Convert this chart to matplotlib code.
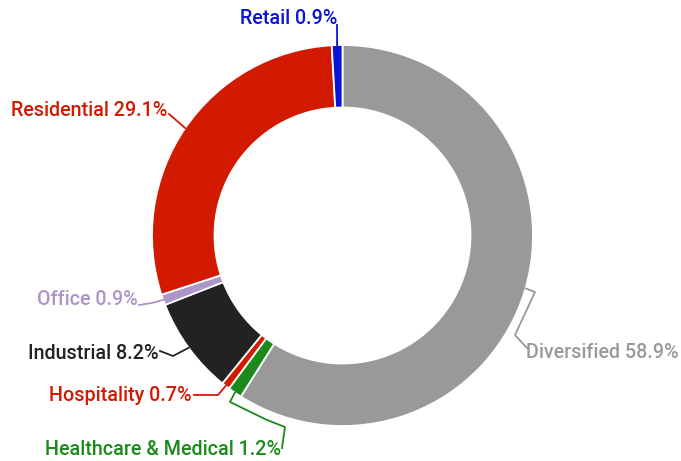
import numpy as np
import matplotlib
matplotlib.use("Agg")
import matplotlib.pyplot as plt

plt.rcParams['font.family'] = ['Roboto', 'DejaVu Sans']

# sectors, clockwise from 12 o'clock
sectors = ['Diversified', 'Healthcare & Medical', 'Hospitality', 'Industrial',
           'Office', 'Residential', 'Retail']
shares = [58.9, 1.2, 0.7, 8.2, 0.9, 29.1, 0.9]
colors = ['#999999', '#1b8a1b', '#d21a00', '#222222', '#ab95c9', '#d21a00', '#0a14d2']

W, H = 681, 461
CX, CY = 342.5, 235.5     # ring centre in pixels (y down)
R_OUT, R_IN = 190.5, 128.0

# label placement: text anchor (x, baseline y, ha) and the elbow points of the leader, pixels
label_pos = {
    'Diversified': (526, 358, 'left', [(535, 292), (515, 335), (527, 348)]),
    'Healthcare & Medical': (281, 455, 'right', [(230, 402), (267, 420), (285, 427), (282, 448)]),
    'Hospitality': (192, 401, 'right', [(218, 395), (194, 395)]),
    'Industrial': (159, 359, 'right', [(173, 356), (160, 351)]),
    'Office': (138, 305, 'right', [(152, 303), (139, 305)]),
    'Residential': (167, 116, 'right', [(169, 114)]),
    'Retail': (337, 24, 'right', [(337, 25)]),
}

fig = plt.figure(figsize=(W / 100, H / 100), dpi=100)
ax = fig.add_axes([0, 0, 1, 1])

ax.pie(shares, colors=colors, startangle=90, counterclock=False,
       center=(CX, H - CY), radius=R_OUT,
       wedgeprops=dict(width=R_OUT - R_IN, edgecolor='white', linewidth=1.3))

ax.set_xlim(0, W)
ax.set_ylim(0, H)
ax.set_aspect('equal')
ax.axis('off')

total = sum(shares)
start = 0.0
for name, val, col in zip(sectors, shares, colors):
    mid = (start + val / 2) / total * 2 * np.pi   # clockwise from top
    start += val
    x0 = CX + R_OUT * np.sin(mid)
    y0 = CY - R_OUT * np.cos(mid)
    tx, ty, ha, elbows = label_pos[name]
    pts = [(x0, y0)] + elbows
    xs = [p[0] for p in pts]
    ys = [H - p[1] for p in pts]
    ax.plot(xs, ys, color=col, lw=1.3, solid_joinstyle='round')
    ax.text(tx, H - ty, f'{name} {val}%', color=col, ha=ha, va='baseline',
            fontsize=14.2, fontweight='medium')

fig.savefig('out.png', dpi=100)
